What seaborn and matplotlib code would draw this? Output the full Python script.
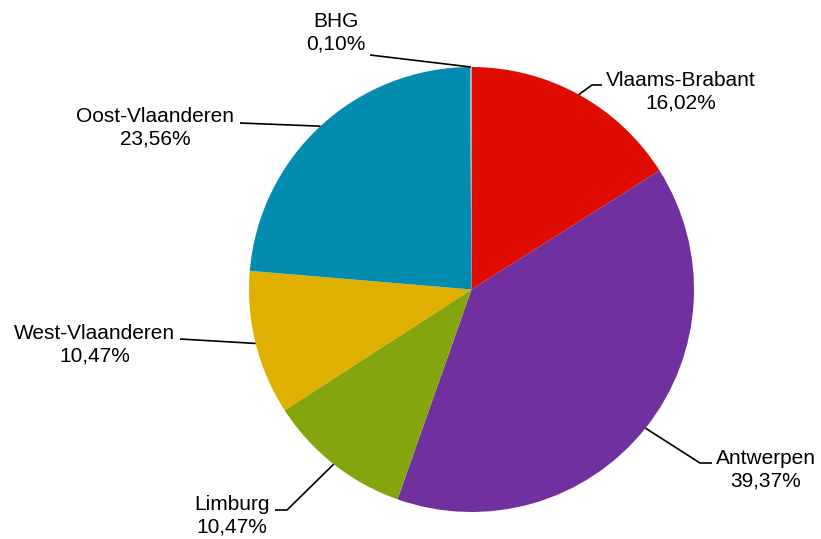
import numpy as np
import matplotlib
matplotlib.use("Agg")
import matplotlib.pyplot as plt
import seaborn as sns

# ---- data ----
regions = ["Vlaams-Brabant", "Antwerpen", "Limburg", "West-Vlaanderen", "Oost-Vlaanderen", "BHG"]
shares = [16.02, 39.37, 10.47, 10.47, 23.56, 0.10]
pct_labels = ["16,02%", "39,37%", "10,47%", "10,47%", "23,56%", "0,10%"]
colors = ["#E10C00", "#7030A0", "#84A50E", "#E0B000", "#028DB0", "#A9B4BA"]

sns.set_theme(style="white")
plt.rcParams["font.family"] = ["Liberation Sans", "DejaVu Sans"]

W, H = 821, 539
fig = plt.figure(figsize=(W / 100, H / 100), dpi=100)
ax = fig.add_axes([0, 0, 1, 1])

# pie geometry in pixels
cx, cy, R = 471.5, 289.5, 222.5


def px(x, y):
    return ((x - cx) / R, (cy - y) / R)


wedges, _ = ax.pie(shares, colors=colors, startangle=90, counterclock=False,
                   radius=1.0, center=(0, 0), wedgeprops=dict(linewidth=0))

ax.set_xlim(px(0, 0)[0], px(W, 0)[0])
ax.set_ylim(px(0, H)[1], px(0, 0)[1])
ax.set_aspect("auto")
ax.axis("off")

# label layout (pixel positions): text anchor, ha, line path points after edge
layout = {
    "Vlaams-Brabant": dict(txt=(606, 91.5), ha="left", path=[(592, 85), (602, 85)]),
    "Antwerpen": dict(txt=(716, 470), ha="left", path=[(700, 463), (712, 463)]),
    "Limburg": dict(txt=(270, 516), ha="right", path=[(287, 510), (275, 510)]),
    "West-Vlaanderen": dict(txt=(175, 344.5), ha="right", path=[(180, 339)]),
    "Oost-Vlaanderen": dict(txt=(234, 127.5), ha="right", path=[(240, 123)]),
    "BHG": dict(txt=(336, 32.5), ha="center", path=[(370, 55)]),
}

for w, name, pl in zip(wedges, regions, pct_labels):
    mid = np.deg2rad((w.theta1 + w.theta2) / 2)
    ex, ey = np.cos(mid), np.sin(mid)
    cfg = layout[name]
    pts = [(ex, ey)] + [px(*p) for p in cfg["path"]]
    xs, ys = zip(*pts)
    ax.plot(xs, ys, color="black", lw=1.2, solid_capstyle="butt")
    tx, ty = px(*cfg["txt"])
    ax.text(tx, ty, f"{name}\n{pl}", ha=cfg["ha"], va="center",
            multialignment="center", fontsize=15, linespacing=1.25, color="black")

fig.savefig("out.png", dpi=100, facecolor="white")
